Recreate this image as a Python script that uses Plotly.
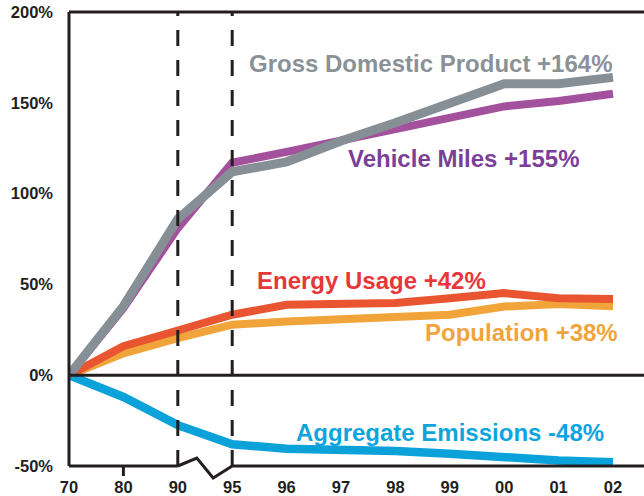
import plotly.graph_objects as go

# Categories (years) and tick labels
years = ["70", "80", "90", "95", "96", "97", "98", "99", "00", "01", "02"]
x_idx = list(range(len(years)))

# Percent change since 1970
gdp = [0, 38, 86, 112, 117.5, 129, 139, 150, 160.5, 160.5, 164]
vehicle_miles = [0, 37, 81, 117, 123, 129, 135, 141, 148, 151, 155]
energy = [0, 16, 24.6, 33.3, 38.8, 39.2, 39.7, 42.4, 45.2, 42.4, 42]
population = [0, 12, 20.4, 27.8, 29.6, 30.9, 32.4, 33.3, 37.8, 39.2, 38]
emissions = [0, -12, -27.5, -38, -40.5, -41, -41.8, -43.2, -45.6, -47, -48]

y_ticks = [-50, 0, 50, 100, 150, 200]
y_labels = ["-50%", "0%", "50%", "100%", "150%", "200%"]

FONT = "Liberation Sans, Arial, sans-serif"
INK = "#231f20"

series = [
    ("Population +38%", population, "#f0a43a", "#f0a43a", 8),
    ("Energy Usage +42%", energy, "#e85530", "#e8373a", 8),
    ("Aggregate Emissions -48%", emissions, "#0ba2d9", "#0ea5dc", 8.5),
    ("Vehicle Miles +155%", vehicle_miles, "#a3519d", "#7b3f98", 8),
    ("Gross Domestic Product +164%", gdp, "#878f96", "#8a9298", 9),
]

fig = go.Figure()
for name, vals, color, _, width in series:
    fig.add_trace(go.Scatter(
        x=x_idx, y=vals, mode="lines", name=name,
        line=dict(color=color, width=width),
        hoverinfo="skip",
    ))

x_max = 10.57

# Series labels placed near the end of each line
label_pos = {
    "Gross Domestic Product +164%": (10.02, 171.5),
    "Vehicle Miles +155%": (9.41, 119.5),
    "Energy Usage +42%": (7.70, 52.0),
    "Population +38%": (10.13, 23.4),
    "Aggregate Emissions -48%": (9.87, -31.6),
}
for name, vals, _, text_color, _ in series:
    lx, ly = label_pos[name]
    fig.add_annotation(
        x=lx, y=ly, xref="x", yref="y", text=name, showarrow=False,
        xanchor="right", yanchor="middle",
        font=dict(family=FONT, size=24, color=text_color, weight="bold"),
    )

axis_line = dict(color=INK, width=3)
shapes = [
    # left and top frame
    dict(type="line", xref="paper", yref="paper", x0=0, x1=0, y0=0, y1=1, line=axis_line),
    dict(type="line", xref="paper", yref="paper", x0=0, x1=1, y0=1, y1=1, line=axis_line),
    # zero line
    dict(type="line", xref="paper", yref="y", x0=0, x1=1, y0=0, y1=0, line=axis_line),
    # bottom axis with a break between 90 and 95
    dict(type="line", xref="x", yref="paper", x0=0, x1=2, y0=0, y1=0, line=axis_line),
    dict(type="path", xref="x", yref="paper",
         path="M 2,0 L 2.35,0.0176 L 2.65,-0.0264 L 3,0", line=axis_line),
    dict(type="line", xref="x", yref="paper", x0=3, x1=x_max, y0=0, y1=0, line=axis_line),
    # tick mark at 80
    dict(type="line", xref="x", yref="paper", x0=1, x1=1, y0=0, y1=-0.022, line=axis_line),
    # dashed markers at 90 and 95
    dict(type="line", xref="x", yref="paper", x0=2, x1=2, y0=0, y1=1,
         line=dict(color=INK, width=3, dash="16px,14px")),
    dict(type="line", xref="x", yref="paper", x0=3, x1=3, y0=0, y1=1,
         line=dict(color=INK, width=3, dash="16px,14px")),
]

fig.update_layout(
    width=644, height=496,
    margin=dict(l=69, r=0, t=12, b=30),
    paper_bgcolor="white", plot_bgcolor="white",
    showlegend=False,
    shapes=shapes,
    xaxis=dict(
        range=[0, x_max], tickvals=x_idx, ticktext=years,
        showgrid=False, zeroline=False, showline=False, ticks="",
        tickfont=dict(family=FONT, size=16.5, color=INK, weight="bold"),
        ticklabelstandoff=9,
        fixedrange=True,
    ),
    yaxis=dict(
        range=[-50, 200], tickvals=y_ticks, ticktext=y_labels,
        showgrid=False, zeroline=False, showline=False, ticks="",
        tickfont=dict(family=FONT, size=16.5, color=INK, weight="bold"),
        ticklabelstandoff=15,
        fixedrange=True,
    ),
)

fig.write_html("out.html")
